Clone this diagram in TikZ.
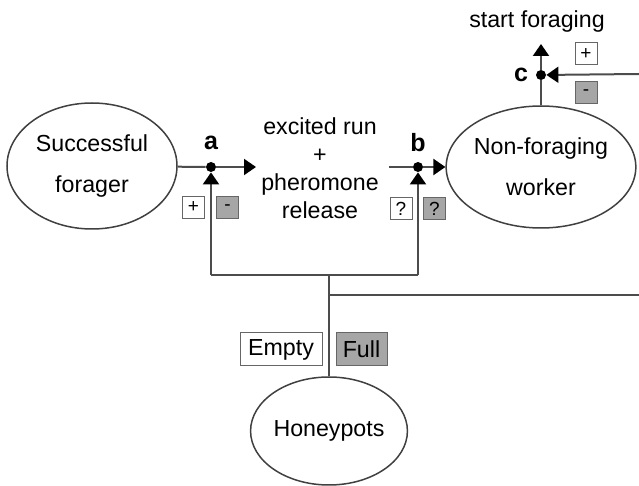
\documentclass[tikz,border=0pt]{standalone}
\usepackage{fontspec}
\setmainfont{Liberation Sans}
\usetikzlibrary{arrows.meta,shapes.geometric}
\tikzset{
  blob/.style={draw=black!75,line width=0.75pt,ellipse,inner sep=0pt},
  junct/.style={circle,fill=black,inner sep=0pt,minimum size=5pt},
  wire/.style={draw=black!70,line width=1pt},
  tri/.style={-{Triangle[length=6pt,width=8pt,color=black]}},
  keybox/.style={draw=black!60,line width=0.5pt,inner sep=0pt,minimum width=11pt,minimum height=11pt,font=\fontsize{9.5}{10}\selectfont},
  greybox/.style={keybox,fill=black!35},
  statebox/.style={draw=black!60,line width=0.5pt,inner sep=0pt,minimum height=16.5pt},
  lbl/.style={font=\fontsize{12.5}{13}\selectfont\bfseries}
}
\begin{document}
\begin{tikzpicture}[x=0.5pt,y=-0.5pt,font=\fontsize{11.6}{13.5}\selectfont]
\useasboundingbox (0,0) rectangle (639,486);

\node[blob,minimum width=85pt,minimum height=63pt,align=center] (forager) at (92,166) {Successful\\[7pt]forager};
\node[blob,minimum width=87pt,minimum height=61pt,align=center] (worker) at (541,167) {Non-foraging\\[7pt]worker};
\node[blob,minimum width=78pt,minimum height=54pt] (honey) at (329,431) {Honeypots};
\node[align=center,font=\fontsize{11.6}{14}\selectfont] (run) at (320,168) {excited run\\+\\pheromone\\release};
\node (start) at (537,22) {start foraging};

\node[junct] (a) at (211,167) {};
\node[junct] (b) at (418,167) {};
\node[junct] (c) at (541,75) {};
\node[lbl] (la) at (211,143) {a};
\node[lbl] (lb) at (418,143) {b};
\node[lbl] (lc) at (521,75) {c};

\coordinate (aout) at (256,167);
\coordinate (bin) at (389,167);
\coordinate (fa) at (211,275);
\coordinate (fb) at (418,275);
\coordinate (fh) at (329,275);
\coordinate (fc) at (329,295);
\coordinate (edge) at (639,295);
\coordinate (cin) at (639,74);
\coordinate (cup) at (541,44);

\draw[wire] (forager) -- (a);% into a
\draw[wire,tri] (a) -- (aout);
\draw[wire] (bin) -- (b);% into b
\draw[wire,tri] (b) -- (worker);
\draw[wire] (worker) -- (c);% into c
\draw[wire,tri] (c) -- (cup);
\draw[wire,tri] (cin) -- (c);
\draw[wire,tri] (fa) -- (a);% honeypot feedback
\draw[wire,tri] (fb) -- (b);
\draw[wire] (fa) -- (fb);
\draw[wire] (honey) -- (fh);
\draw[wire] (fc) -- (edge);

\node[keybox] (pa) at (193.5,207.5) {+};
\node[greybox] (ma) at (227.5,207.5) {-};
\node[keybox] (qa) at (401,208.5) {?};
\node[greybox] (qb) at (434.5,208.5) {?};
\node[keybox] (pc) at (586,54) {+};
\node[greybox] (mc) at (586,93) {-};
\node[statebox,minimum width=41pt] (empty) at (281,349.5) {Empty};
\node[statebox,minimum width=25.5pt,fill=black!35] (full) at (361.5,349.5) {Full};
\end{tikzpicture}
\end{document}
